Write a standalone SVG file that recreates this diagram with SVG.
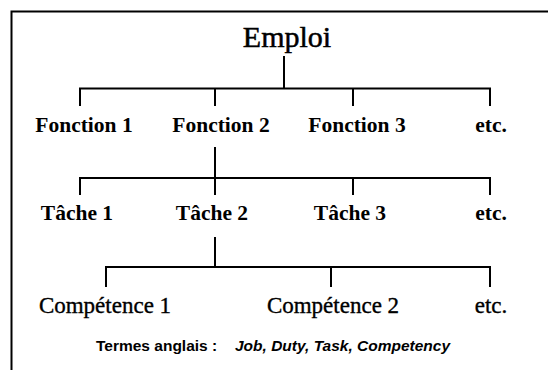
<svg xmlns="http://www.w3.org/2000/svg" width="548" height="370" viewBox="0 0 548 370">
<style>
.ln{stroke:#000;stroke-width:2;fill:none}
.b{font-family:"Liberation Serif","Times New Roman",serif;font-weight:bold;font-size:21.5px;fill:#000;text-anchor:middle}
.r{font-family:"Liberation Serif","Times New Roman",serif;font-size:23px;fill:#000;stroke:#000;stroke-width:0.35;text-anchor:middle}
.s{font-family:"Liberation Sans",Arial,sans-serif;font-weight:bold;font-size:15.5px;fill:#000}
</style>
<rect width="548" height="370" fill="#fff"/>
<g id="frame"><path class="ln" d="M11.5,370 V11.5 H548"/></g>
<g id="connectors">
<path class="ln" d="M284,56 V88.5 M80,106 V88.5 H490 V106 M215,88.5 V106 M353,88.5 V106"/>
<path class="ln" d="M215,147 V195 M80,195 V178 H490 V195 M353,178 V195"/>
<path class="ln" d="M215,237 V267 M106,287 V267 H490 V287 M331,267 V287"/>
</g>
<g id="emploi"><text x="287" y="47" class="r" style="font-size:30px;stroke-width:0.5">Emploi</text></g>
<g id="fonction1"><text x="84" y="131.5" class="b">Fonction 1</text></g>
<g id="fonction2"><text x="221" y="131.5" class="b">Fonction 2</text></g>
<g id="fonction3"><text x="357" y="131.5" class="b">Fonction 3</text></g>
<g id="etc1"><text x="491" y="131.5" class="b">etc.</text></g>
<g id="tache1"><text x="77" y="220" class="b">Tâche 1</text></g>
<g id="tache2"><text x="212" y="220" class="b">Tâche 2</text></g>
<g id="tache3"><text x="350" y="220" class="b">Tâche 3</text></g>
<g id="etc2"><text x="491" y="220" class="b">etc.</text></g>
<g id="competence1"><text x="105" y="313" class="r">Compétence 1</text></g>
<g id="competence2"><text x="333" y="313" class="r">Compétence 2</text></g>
<g id="etc3"><text x="491" y="313" class="r">etc.</text></g>
<g id="legend"><text x="96" y="351" class="s">Termes anglais :<tspan x="235" font-style="italic">Job, Duty, Task, Competency</tspan></text></g>
</svg>
